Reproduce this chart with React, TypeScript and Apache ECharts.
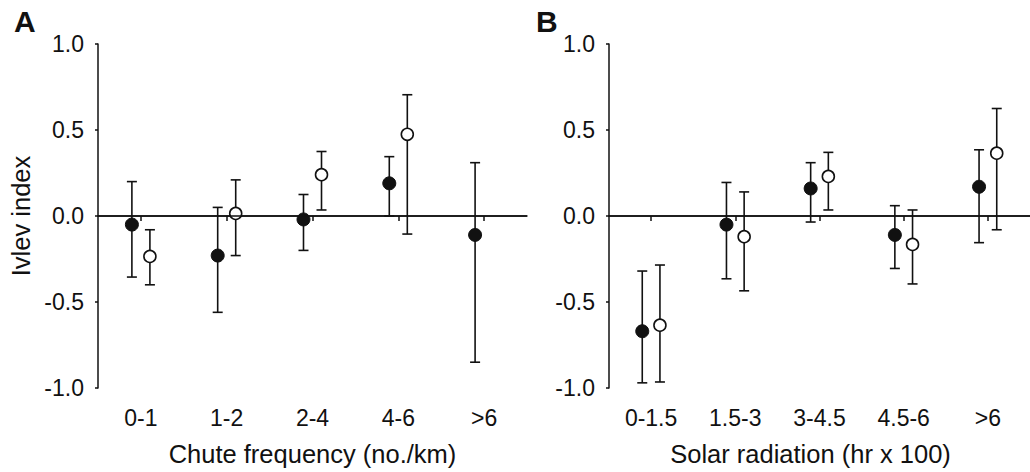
import React, { useEffect, useRef } from "react";
import * as echarts from "echarts";

const catsA = ["0-1", "1-2", "2-4", "4-6", ">6"];
const filledA = [-0.05, -0.23, -0.02, 0.19, -0.11];
const filledALo = [-0.355, -0.56, -0.2, 0.0, -0.85];
const filledAHi = [0.2, 0.05, 0.125, 0.345, 0.31];
const openA: (number | null)[] = [-0.235, 0.015, 0.24, 0.475, null];
const openALo: (number | null)[] = [-0.4, -0.23, 0.035, -0.105, null];
const openAHi: (number | null)[] = [-0.08, 0.21, 0.375, 0.705, null];

const catsB = ["0-1.5", "1.5-3", "3-4.5", "4.5-6", ">6"];
const filledB = [-0.67, -0.05, 0.16, -0.11, 0.17];
const filledBLo = [-0.97, -0.365, -0.035, -0.305, -0.155];
const filledBHi = [-0.32, 0.195, 0.31, 0.06, 0.385];
const openB = [-0.635, -0.12, 0.23, -0.165, 0.365];
const openBLo = [-0.965, -0.435, 0.035, -0.395, -0.08];
const openBHi = [-0.285, 0.14, 0.37, 0.035, 0.625];

const yTicks = [-1, -0.5, 0, 0.5, 1];

const FONT = "'Liberation Sans', Arial, sans-serif";
const INK = "#111";

function rows(v: (number | null)[], lo: (number | null)[], hi: (number | null)[]) {
  const out: number[][] = [];
  v.forEach((val, i) => {
    if (val !== null && lo[i] !== null && hi[i] !== null) out.push([i, val, lo[i] as number, hi[i] as number]);
  });
  return out;
}

function makeSeries(name: string, idx: number, data: number[][], offset: number, filled: boolean, withZero: boolean) {
  const s: any = {
    type: "custom",
    name,
    xAxisIndex: idx,
    yAxisIndex: idx,
    data,
    encode: { x: 0, y: 1 },
    z: filled ? 3 : 4,
    renderItem: (params: any, api: any) => {
      const xi = api.value(0);
      const c = api.coord([xi, api.value(1)]);
      const pLo = api.coord([xi, api.value(2)]);
      const pHi = api.coord([xi, api.value(3)]);
      const band = api.size([1, 0])[0];
      const x = c[0] + offset * band;
      const ls = { stroke: INK, lineWidth: 1.6 };
      return {
        type: "group",
        children: [
          { type: "line", shape: { x1: x, y1: pHi[1], x2: x, y2: pLo[1] }, style: ls },
          { type: "line", shape: { x1: x - 5, y1: pHi[1], x2: x + 5, y2: pHi[1] }, style: ls },
          { type: "line", shape: { x1: x - 5, y1: pLo[1], x2: x + 5, y2: pLo[1] }, style: ls },
          {
            type: "circle",
            shape: { cx: x, cy: c[1], r: filled ? 6.5 : 6 },
            style: filled ? { fill: INK, stroke: INK, lineWidth: 1 } : { fill: "#fff", stroke: INK, lineWidth: 1.6 },
            z2: 10,
          },
        ],
      };
    },
  };
  if (withZero) {
    s.markLine = {
      silent: true,
      symbol: ["none", "none"],
      label: { show: false },
      lineStyle: { color: INK, width: 1.5, type: "solid" },
      data: [{ yAxis: 0 }],
    };
  }
  return s;
}

function xAxisCfg(idx: number, cats: string[], name: string, namePad: number[]) {
  return {
    type: "category",
    gridIndex: idx,
    data: cats,
    boundaryGap: true,
    name,
    nameLocation: "middle",
    nameGap: 53,
    nameTextStyle: { fontFamily: FONT, fontSize: 25.5, color: INK, padding: namePad },
    axisLine: { show: true, lineStyle: { color: INK, width: 1.5 } },
    axisTick: { show: true, alignWithLabel: true, length: 5, lineStyle: { color: INK, width: 1.5 } },
    axisLabel: { fontFamily: FONT, fontSize: 23, color: INK, margin: 18 },
    splitLine: { show: false },
  };
}

function yAxisCfg(idx: number, withName: boolean) {
  return {
    type: "value",
    gridIndex: idx,
    min: yTicks[0],
    max: yTicks[yTicks.length - 1],
    interval: 0.5,
    name: withName ? "Ivlev index" : "",
    nameLocation: "middle",
    nameGap: 64,
    nameTextStyle: { fontFamily: FONT, fontSize: 25.5, color: INK },
    axisLine: { show: true, lineStyle: { color: INK, width: 1.5 } },
    axisTick: { show: true, length: 3, lineStyle: { color: INK, width: 1.5 } },
    axisLabel: {
      fontFamily: FONT,
      fontSize: 23,
      color: INK,
      margin: 14,
      formatter: (v: number) => v.toFixed(1),
    },
    splitLine: { show: false },
  };
}

export default function App() {
  const ref = useRef<HTMLDivElement>(null);
  useEffect(() => {
    if (!ref.current) return;
    const chart = echarts.init(ref.current, null, { renderer: "svg" });
    chart.setOption({
      animation: false,
      backgroundColor: "#fff",
      grid: [
        { left: 98, top: 44, width: 429, height: 345 },
        { left: 609, top: 44, width: 429, height: 345 },
      ],
      xAxis: [
        xAxisCfg(0, catsA, "Chute frequency (no./km)", [0, 0, 0, 0]),
        xAxisCfg(1, catsB, "Solar radiation (hr x 100)", [0, 18, 0, 0]),
      ],
      yAxis: [yAxisCfg(0, true), yAxisCfg(1, false)],
      graphic: [
        { type: "text", left: 14, top: 6, style: { text: "A", font: `bold 30px ${FONT}`, fill: INK } },
        { type: "text", left: 536, top: 6, style: { text: "B", font: `bold 30px ${FONT}`, fill: INK } },
      ],
      series: [
        makeSeries("A filled", 0, rows(filledA, filledALo, filledAHi), -0.105, true, true),
        makeSeries("A open", 0, rows(openA, openALo, openAHi), 0.105, false, false),
        makeSeries("B filled", 1, rows(filledB, filledBLo, filledBHi), -0.105, true, true),
        makeSeries("B open", 1, rows(openB, openBLo, openBHi), 0.105, false, false),
      ],
    });
    return () => chart.dispose();
  }, []);
  return (
    <div
      ref={ref}
      style={{ position: "absolute", left: 0, top: 0, width: 1030, height: 472, background: "#fff" }}
    />
  );
}
